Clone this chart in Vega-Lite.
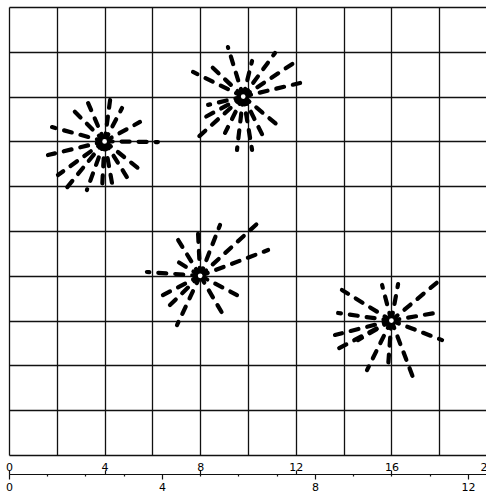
{
  "$schema": "https://vega.github.io/schema/vega-lite/v6.json",
  "width": 478,
  "height": 448,
  "autosize": {"type": "none"},
  "padding": {"left": 9, "top": 7, "right": 0, "bottom": 39},
  "background": "white",
  "config": {"view": {"stroke": null}, "font": "DejaVu Sans"},
  "datasets": {
    "rays": [
      {"star": 1, "cx": 4, "cy": 14, "ex": 1.80, "ey": 14.64},
      {"star": 1, "cx": 4, "cy": 14, "ex": 1.63, "ey": 13.39},
      {"star": 1, "cx": 4, "cy": 14, "ex": 2.55, "ey": 15.54},
      {"star": 1, "cx": 4, "cy": 14, "ex": 3.31, "ey": 15.71},
      {"star": 1, "cx": 4, "cy": 14, "ex": 4.23, "ey": 15.85},
      {"star": 1, "cx": 4, "cy": 14, "ex": 4.73, "ey": 15.49},
      {"star": 1, "cx": 4, "cy": 14, "ex": 5.48, "ey": 14.87},
      {"star": 1, "cx": 4, "cy": 14, "ex": 6.23, "ey": 13.97},
      {"star": 1, "cx": 4, "cy": 14, "ex": 5.61, "ey": 12.63},
      {"star": 1, "cx": 4, "cy": 14, "ex": 5.06, "ey": 12.19},
      {"star": 1, "cx": 4, "cy": 14, "ex": 4.31, "ey": 12.14},
      {"star": 1, "cx": 4, "cy": 14, "ex": 3.89, "ey": 11.83},
      {"star": 1, "cx": 4, "cy": 14, "ex": 3.26, "ey": 11.83},
      {"star": 1, "cx": 4, "cy": 14, "ex": 2.34, "ey": 11.83},
      {"star": 1, "cx": 4, "cy": 14, "ex": 2.05, "ey": 12.50},
      {"star": 2, "cx": 9.8, "cy": 16, "ex": 9.16, "ey": 18.21},
      {"star": 2, "cx": 9.8, "cy": 16, "ex": 7.70, "ey": 17.10},
      {"star": 2, "cx": 9.8, "cy": 16, "ex": 8.28, "ey": 17.54},
      {"star": 2, "cx": 9.8, "cy": 16, "ex": 10.17, "ey": 17.59},
      {"star": 2, "cx": 9.8, "cy": 16, "ex": 11.13, "ey": 17.95},
      {"star": 2, "cx": 9.8, "cy": 16, "ex": 11.97, "ey": 17.54},
      {"star": 2, "cx": 9.8, "cy": 16, "ex": 12.18, "ey": 16.61},
      {"star": 2, "cx": 9.8, "cy": 16, "ex": 11.34, "ey": 14.64},
      {"star": 2, "cx": 9.8, "cy": 16, "ex": 10.71, "ey": 14.06},
      {"star": 2, "cx": 9.8, "cy": 16, "ex": 10.17, "ey": 13.62},
      {"star": 2, "cx": 9.8, "cy": 16, "ex": 9.54, "ey": 13.62},
      {"star": 2, "cx": 9.8, "cy": 16, "ex": 9.04, "ey": 14.38},
      {"star": 2, "cx": 9.8, "cy": 16, "ex": 7.78, "ey": 14.06},
      {"star": 2, "cx": 9.8, "cy": 16, "ex": 7.99, "ey": 14.96},
      {"star": 2, "cx": 9.8, "cy": 16, "ex": 8.33, "ey": 15.63},
      {"star": 3, "cx": 8, "cy": 8, "ex": 5.77, "ey": 8.17},
      {"star": 3, "cx": 8, "cy": 8, "ex": 6.95, "ey": 9.82},
      {"star": 3, "cx": 8, "cy": 8, "ex": 7.91, "ey": 9.91},
      {"star": 3, "cx": 8, "cy": 8, "ex": 8.83, "ey": 10.27},
      {"star": 3, "cx": 8, "cy": 8, "ex": 10.42, "ey": 10.36},
      {"star": 3, "cx": 8, "cy": 8, "ex": 10.84, "ey": 9.15},
      {"star": 3, "cx": 8, "cy": 8, "ex": 9.54, "ey": 7.14},
      {"star": 3, "cx": 8, "cy": 8, "ex": 9.04, "ey": 6.12},
      {"star": 3, "cx": 8, "cy": 8, "ex": 7.03, "ey": 5.80},
      {"star": 3, "cx": 8, "cy": 8, "ex": 6.65, "ey": 6.61},
      {"star": 3, "cx": 8, "cy": 8, "ex": 6.44, "ey": 7.14},
      {"star": 3, "cx": 8, "cy": 8, "ex": 6.82, "ey": 8.79},
      {"star": 4, "cx": 16, "cy": 6, "ex": 13.93, "ey": 7.37},
      {"star": 4, "cx": 16, "cy": 6, "ex": 13.77, "ey": 6.34},
      {"star": 4, "cx": 16, "cy": 6, "ex": 13.64, "ey": 5.36},
      {"star": 4, "cx": 16, "cy": 6, "ex": 13.51, "ey": 4.60},
      {"star": 4, "cx": 16, "cy": 6, "ex": 14.98, "ey": 3.79},
      {"star": 4, "cx": 16, "cy": 6, "ex": 15.86, "ey": 3.93},
      {"star": 4, "cx": 16, "cy": 6, "ex": 16.90, "ey": 3.48},
      {"star": 4, "cx": 16, "cy": 6, "ex": 18.12, "ey": 5.13},
      {"star": 4, "cx": 16, "cy": 6, "ex": 18.03, "ey": 6.38},
      {"star": 4, "cx": 16, "cy": 6, "ex": 18.03, "ey": 7.81},
      {"star": 4, "cx": 16, "cy": 6, "ex": 16.28, "ey": 7.63},
      {"star": 4, "cx": 16, "cy": 6, "ex": 15.61, "ey": 7.59},
      {"star": 4, "cx": 16, "cy": 6, "ex": 14.60, "ey": 5.13}
    ],
    "centers": [
      {"star": 1, "cx": 4, "cy": 14},
      {"star": 2, "cx": 9.8, "cy": 16},
      {"star": 3, "cx": 8, "cy": 8},
      {"star": 4, "cx": 16, "cy": 6}
    ],
    "miles": [
      {"mi": 0},
      {"mi": 12}
    ]
  },
  "layer": [
    {
      "layer": [
        {
          "data": {"name": "rays"},
          "mark": {"type": "rule", "color": "black", "strokeWidth": 4.2, "strokeDash": [8, 9], "strokeCap": "round"},
          "encoding": {
            "x": {
              "field": "cx", "type": "quantitative",
              "scale": {"domain": [0, 20], "nice": false, "zero": false},
              "axis": {
                "orient": "bottom", "offset": 19, "title": null,
                "values": [0, 2, 4, 6, 8, 10, 12, 14, 16, 18, 20],
                "grid": true, "gridColor": "#111", "gridWidth": 1.3, "gridOpacity": 1,
                "domain": true, "domainColor": "#111", "domainWidth": 1.2,
                "ticks": true, "tickSize": -4, "tickColor": "#111", "tickWidth": 1.2,
                "tickOpacity": {"condition": {"test": "datum.value % 4 === 0", "value": 1}, "value": 0},
                "labelExpr": "datum.value % 4 === 0 ? datum.label : ''",
                "labelPadding": 0, "labelBaseline": "alphabetic",
                "labelFlush": false, "labelOverlap": false,
                "labelFont": "DejaVu Sans", "labelFontSize": 11, "labelColor": "black"
              }
            },
            "y": {
              "field": "cy", "type": "quantitative",
              "scale": {"domain": [0, 20], "nice": false, "zero": false},
              "axis": {
                "title": null, "values": [0, 2, 4, 6, 8, 10, 12, 14, 16, 18, 20],
                "grid": true, "gridColor": "#111", "gridWidth": 1.3, "gridOpacity": 1,
                "domain": false, "ticks": false, "labels": false
              }
            },
            "x2": {"field": "ex"},
            "y2": {"field": "ey"}
          }
        },
        {
          "data": {"name": "centers"},
          "mark": {"type": "point", "shape": "circle", "filled": true, "fill": "white", "stroke": "black", "strokeWidth": 1.6, "size": 40, "opacity": 1},
          "encoding": {
            "x": {"field": "cx", "type": "quantitative"},
            "y": {"field": "cy", "type": "quantitative"}
          }
        }
      ]
    },
    {
      "data": {"name": "miles"},
      "mark": {"type": "rule", "strokeOpacity": 0},
      "encoding": {
        "x": {
          "field": "mi", "type": "quantitative",
          "scale": {"domain": [0, 12.5], "nice": false, "zero": false},
          "axis": {
            "orient": "bottom", "offset": 19, "title": null,
            "values": [0, 1, 2, 3, 4, 5, 6, 7, 8, 9, 10, 11, 12],
            "grid": false,
            "domain": true, "domainColor": "#111", "domainWidth": 1.2,
            "ticks": true, "tickColor": "#111", "tickWidth": 1.2,
            "tickSize": {"condition": {"test": "datum.value % 4 === 0", "value": 5}, "value": 2},
            "labelExpr": "datum.value % 4 === 0 ? datum.label : ''",
            "labelPadding": 2, "labelBaseline": "top",
            "labelFlush": false, "labelOverlap": false,
            "labelFont": "DejaVu Sans", "labelFontSize": 11, "labelColor": "black"
          }
        }
      }
    }
  ],
  "resolve": {"scale": {"x": "independent"}, "axis": {"x": "independent"}}
}
